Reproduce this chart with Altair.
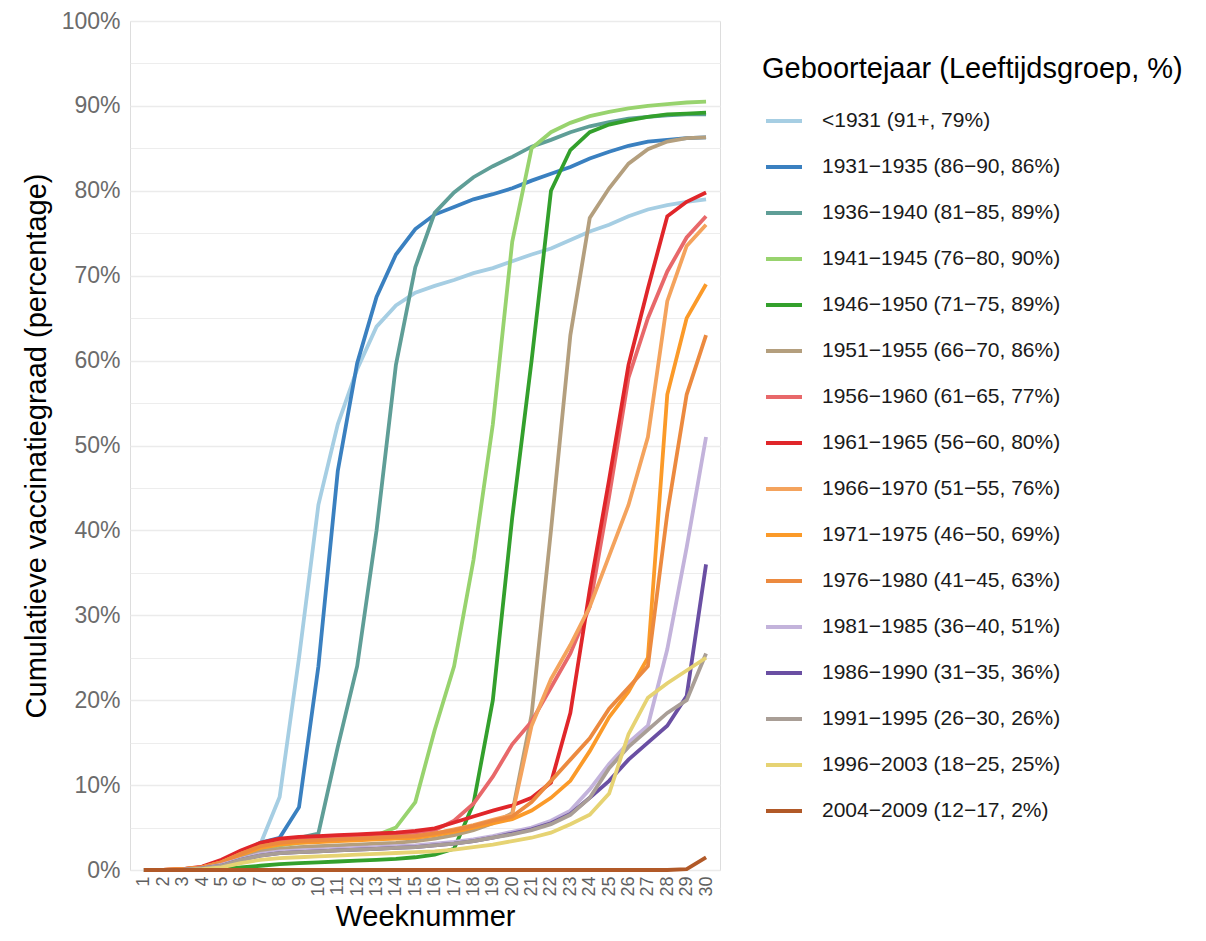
import altair as alt
import pandas as pd

weeks = list(range(1, 31))

groups = [
    "<1931 (91+, 79%)",
    "1931−1935 (86−90, 86%)",
    "1936−1940 (81−85, 89%)",
    "1941−1945 (76−80, 90%)",
    "1946−1950 (71−75, 89%)",
    "1951−1955 (66−70, 86%)",
    "1956−1960 (61−65, 77%)",
    "1961−1965 (56−60, 80%)",
    "1966−1970 (51−55, 76%)",
    "1971−1975 (46−50, 69%)",
    "1976−1980 (41−45, 63%)",
    "1981−1985 (36−40, 51%)",
    "1986−1990 (31−35, 36%)",
    "1991−1995 (26−30, 26%)",
    "1996−2003 (18−25, 25%)",
    "2004−2009 (12−17, 2%)",
]

colors = [
    "#a6cee3", "#3a80c0", "#5f9e97", "#98d36e", "#33a02c", "#b49f7e",
    "#e8686a", "#e0262a", "#f4a35d", "#fb9a29", "#ec8a3f", "#c3b3db",
    "#6a4fa3", "#a99e96", "#e6d373", "#b15928",
]

v_pre1931 = [0, 0, 0, 0.2, 0.8, 1.8, 3.0, 8.6, 25, 43, 52.5, 59, 64, 66.5, 68,
             68.8, 69.5, 70.3, 70.9, 71.7, 72.5, 73.2, 74.2, 75.2, 76, 77, 77.8, 78.3, 78.7, 79]
v_1931 = [0, 0, 0, 0.2, 0.8, 2, 3.2, 3.8, 7.4, 24, 47, 59.7, 67.5, 72.5, 75.5,
          77.2, 78.1, 79, 79.6, 80.3, 81.2, 82, 82.8, 83.8, 84.6, 85.3, 85.8, 86, 86.2, 86.3]
v_1936 = [0, 0, 0, 0.2, 0.8, 2, 3, 3.5, 3.8, 4.3, 14.5, 24, 40, 59.5, 71,
          77.4, 79.8, 81.6, 82.9, 84, 85.2, 86, 86.9, 87.6, 88.1, 88.5, 88.7, 88.9, 89, 89]
v_1941 = [0, 0, 0, 0.2, 0.7, 1.6, 2.4, 2.9, 3.2, 3.4, 3.6, 3.8, 4.1, 5, 8,
          16.5, 24, 36.5, 52.5, 74, 85, 86.9, 88, 88.8, 89.3, 89.7, 90, 90.2, 90.4, 90.5]
v_1946 = [0, 0, 0, 0, 0.1, 0.3, 0.5, 0.7, 0.8, 0.9, 1.0, 1.1, 1.2, 1.3, 1.5,
          1.8, 2.5, 7.8, 20, 41.5, 60, 80, 84.8, 86.9, 87.8, 88.3, 88.7, 89, 89.1, 89.2]
v_1951 = [0, 0, 0, 0.2, 0.6, 1.4, 2.2, 2.5, 2.7, 2.8, 2.9, 3.0, 3.1, 3.2, 3.4,
          3.7, 4.1, 4.7, 5.5, 6.7, 18.3, 40, 63, 76.8, 80.3, 83.2, 84.9, 85.8, 86.2, 86.3]
v_1956 = [0, 0, 0.1, 0.3, 1.0, 2.1, 3.0, 3.4, 3.6, 3.7, 3.8, 3.9, 4.0, 4.1, 4.3,
          4.7, 5.8, 7.8, 11, 14.8, 17.5, 21.5, 25.5, 31, 44, 58, 65, 70.5, 74.5, 77]
v_1961 = [0, 0, 0.1, 0.4, 1.2, 2.3, 3.2, 3.7, 3.9, 4.0, 4.1, 4.2, 4.3, 4.4, 4.6,
          4.9, 5.6, 6.3, 7.0, 7.6, 8.5, 10.3, 18.5, 33, 46, 59.5, 68.5, 77, 78.7, 79.8]
v_1966 = [0, 0, 0.1, 0.3, 0.9, 1.9, 2.7, 3.1, 3.3, 3.4, 3.5, 3.6, 3.7, 3.8, 4.0,
          4.3, 4.8, 5.3, 5.9, 6.5, 17, 22.5, 26.5, 31, 37, 43, 51, 67, 73.5, 76]
v_1971 = [0, 0, 0.1, 0.3, 0.9, 1.8, 2.6, 3.0, 3.2, 3.3, 3.4, 3.5, 3.6, 3.7, 3.8,
          4.1, 4.5, 5.0, 5.5, 6.0, 7.0, 8.5, 10.5, 14, 18, 21, 25, 56, 65, 69]
v_1976 = [0, 0, 0.1, 0.3, 0.9, 1.9, 2.8, 3.2, 3.4, 3.5, 3.6, 3.7, 3.8, 3.9, 4.0,
          4.3, 4.7, 5.2, 5.8, 6.3, 8.0, 10.5, 13, 15.5, 19, 21.5, 24, 42, 56, 63]
v_1981 = [0, 0, 0, 0.2, 0.6, 1.3, 1.9, 2.2, 2.3, 2.4, 2.5, 2.6, 2.7, 2.8, 2.9,
          3.1, 3.3, 3.6, 4.0, 4.5, 5.0, 5.8, 7.0, 9.5, 12.5, 15, 17, 26, 38, 51]
v_1986 = [0, 0, 0, 0.2, 0.5, 1.2, 1.7, 2.0, 2.1, 2.2, 2.3, 2.4, 2.5, 2.6, 2.7,
          2.9, 3.1, 3.4, 3.8, 4.3, 4.8, 5.5, 6.6, 8.5, 10.5, 13, 15, 17, 20.5, 36]
v_1991 = [0, 0, 0, 0.2, 0.5, 1.2, 1.7, 2.0, 2.1, 2.2, 2.3, 2.4, 2.5, 2.6, 2.7,
          2.9, 3.1, 3.4, 3.8, 4.2, 4.7, 5.4, 6.5, 8.5, 12, 14.5, 16.5, 18.5, 20, 25.5]
v_1996 = [0, 0, 0, 0.1, 0.3, 0.8, 1.2, 1.4, 1.5, 1.6, 1.7, 1.8, 1.9, 2.0, 2.1,
          2.2, 2.4, 2.7, 3.0, 3.4, 3.8, 4.4, 5.4, 6.5, 9, 16, 20.3, 22, 23.5, 25]
v_2004 = [0, 0, 0, 0, 0, 0, 0, 0, 0, 0, 0, 0, 0, 0, 0,
          0, 0, 0, 0, 0, 0, 0, 0, 0, 0, 0, 0, 0, 0.1, 1.5]

all_series = [v_pre1931, v_1931, v_1936, v_1941, v_1946, v_1951, v_1956, v_1961,
              v_1966, v_1971, v_1976, v_1981, v_1986, v_1991, v_1996, v_2004]

rows = []
for gi, (g, vals) in enumerate(zip(groups, all_series)):
    for w, v in zip(weeks, vals):
        rows.append({"Week": w, "Groep": g, "Waarde": v, "gi": gi})
df = pd.DataFrame(rows)

FONT = "Liberation Sans"

chart = alt.Chart(df).mark_line(strokeWidth=3.8, clip=False, strokeCap="butt").encode(
    x=alt.X("Week:Q",
            scale=alt.Scale(domain=[0.28, 30.72], nice=False, zero=False),
            axis=alt.Axis(values=weeks, labelAngle=270, grid=False, ticks=False, domain=False,
                          labelFontSize=18, labelColor="#5f5f5f", labelPadding=6,
                          title="Weeknummer", titleFontSize=29, titleFontWeight="normal",
                          titleColor="#000000", titlePadding=6, labelFont=FONT, titleFont=FONT)),
    y=alt.Y("Waarde:Q",
            scale=alt.Scale(domain=[0, 100], nice=False),
            axis=alt.Axis(values=list(range(0, 101, 5)),
                          labelExpr="datum.value % 10 === 0 ? datum.value + '%' : ''",
                          ticks=False, domain=False,
                          gridColor="#ebebeb",
                          gridWidth={"condition": {"test": "datum.value % 10 === 0", "value": 1.6},
                                     "value": 0.9},
                          labelFontSize=23, labelColor="#6b6b6b", labelPadding=10,
                          title="Cumulatieve vaccinatiegraad (percentage)", titleFontSize=29,
                          titleFontWeight="normal", titleColor="#000000", titlePadding=10,
                          labelFont=FONT, titleFont=FONT)),
    color=alt.Color("Groep:N",
                    scale=alt.Scale(domain=groups, range=colors),
                    sort=groups,
                    legend=alt.Legend(title="Geboortejaar (Leeftijdsgroep, %)",
                                      orient="none", legendX=632, legendY=34,
                                      symbolType="stroke", symbolSize=1296, symbolStrokeWidth=4,
                                      symbolOffset=2, labelOffset=18, rowPadding=16,
                                      labelFontSize=21, labelColor="#1a1a1a", labelFont=FONT,
                                      labelLimit=400, titleLimit=600,
                                      titleFontSize=29, titleFontWeight="normal",
                                      titleColor="#000000", titleFont=FONT,
                                      titlePadding=17, padding=0)),
    order=alt.Order("Week:Q"),
).properties(
    width=590,
    height=849,
    autosize=alt.AutoSizeParams(type="none"),
    padding={"left": 122, "top": 13, "right": 473, "bottom": 62},
).configure_view(stroke=None).configure(font=FONT, background="white")

chart.save("out.html", embed_options={"renderer": "svg", "actions": False})
